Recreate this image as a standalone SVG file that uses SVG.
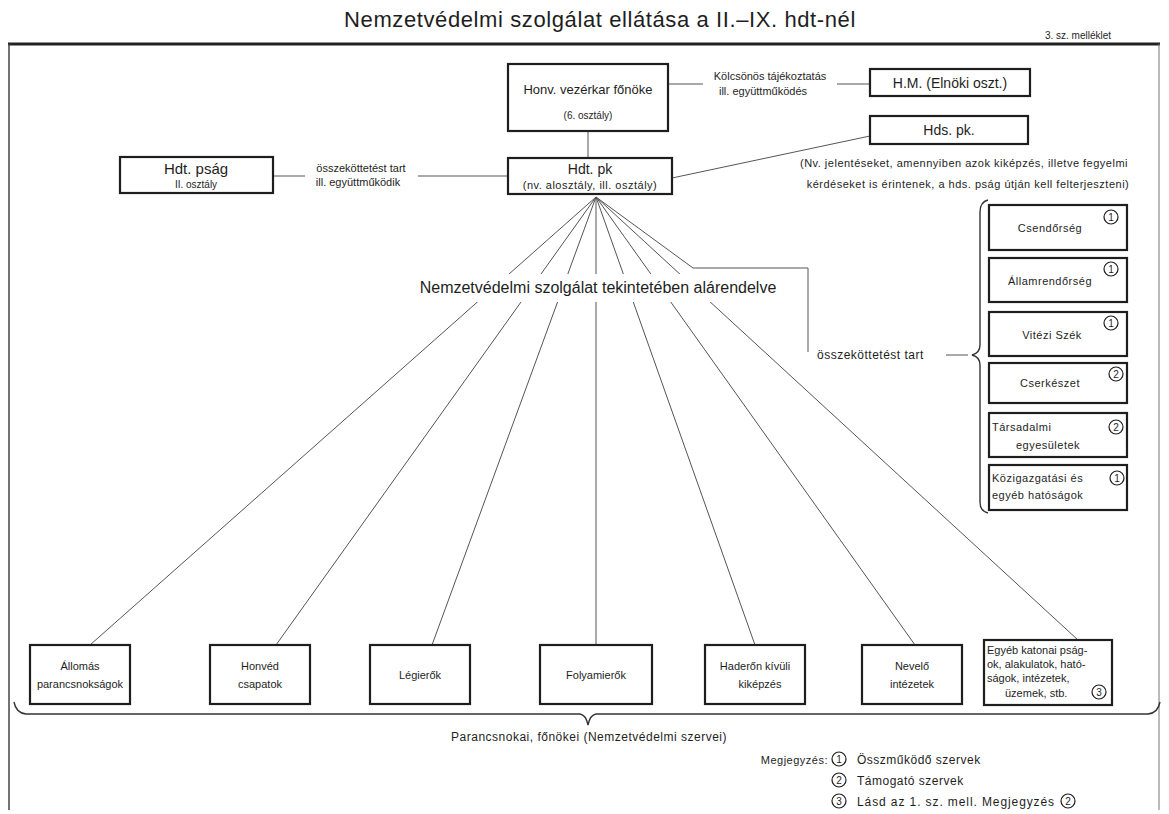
<svg xmlns="http://www.w3.org/2000/svg" width="1169" height="814" viewBox="0 0 1169 814">
<style>
text{font-family:"Liberation Sans","DejaVu Sans",sans-serif;fill:#1e1e1e}
.box{fill:#fff;stroke:#1e1e1e;stroke-width:2.2}
.ln{fill:none;stroke:#555;stroke-width:1}
.br{fill:none;stroke:#333;stroke-width:1.4}
.c{fill:none;stroke:#1e1e1e;stroke-width:1.2}
.m{text-anchor:middle}
.t13{font-size:13px}
.t12{font-size:12px}
.t11{font-size:11px}
.t10{font-size:10px}
.sp{letter-spacing:0.5px}
.cn{font-size:10px;text-anchor:middle}
</style>
<rect width="1169" height="814" fill="#fff"/>
<text x="600" y="27" class="m" font-size="22" letter-spacing="0.6">Nemzetvédelmi szolgálat ellátása a II.–IX. hdt-nél</text>
<text x="1078" y="39" class="m t10">3. sz. melléklet</text>
<g id="frame">
<line x1="8" y1="44" x2="1160" y2="44" stroke="#222" stroke-width="3"/>
<line x1="9" y1="44" x2="9" y2="810" stroke="#444" stroke-width="1.5"/>
<line x1="1159" y1="44" x2="1159" y2="810" stroke="#777" stroke-width="1"/>
</g>
<g id="connectors">
<line class="ln" x1="668" y1="84" x2="703" y2="84"/>
<line class="ln" x1="837" y1="84" x2="870" y2="84"/>
<line class="ln" x1="588" y1="131" x2="588" y2="158"/>
<line class="ln" x1="273" y1="176" x2="305" y2="176"/>
<line class="ln" x1="418" y1="176" x2="508" y2="176"/>
<line class="ln" x1="672" y1="178" x2="870" y2="136"/>
<line class="ln" x1="596" y1="197" x2="90" y2="645"/>
<line class="ln" x1="596" y1="197" x2="276" y2="645"/>
<line class="ln" x1="596" y1="197" x2="432" y2="645"/>
<line class="ln" x1="596" y1="197" x2="596" y2="645"/>
<line class="ln" x1="596" y1="197" x2="755" y2="645"/>
<line class="ln" x1="596" y1="197" x2="915" y2="645"/>
<line class="ln" x1="596" y1="197" x2="1078" y2="640"/>
<polyline class="ln" points="596,197 693,268 808,268 808,352"/>
<line class="ln" x1="946" y1="355" x2="968" y2="355"/>
<rect x="412" y="274" width="384" height="28" fill="#fff"/>
<path class="br" d="M988,200 Q980,202 980,212 L980,345 Q980,353 972,355 Q980,357 980,365 L980,502 Q980,511 988,513"/>
<path class="br" d="M14,702 Q16,713 26,714 L580,714 Q586,715 588,725 Q590,715 596,714 L1148,714 Q1158,713 1160,702"/>
</g>
<text x="598" y="293" class="m" font-size="16">Nemzetvédelmi szolgálat tekintetében alárendelve</text>
<text x="770" y="80" class="m t11">Kölcsönös tájékoztatás</text>
<text x="763" y="95" class="m t11">ill. együttműködés</text>
<text x="361" y="172" class="m t11">összeköttetést tart</text>
<text x="358" y="186" class="m t11">ill. együttműködik</text>
<text x="817" y="359" class="t12 sp">összeköttetést tart</text>
<text x="964" y="167" class="m t11 sp">(Nv. jelentéseket, amennyiben azok kiképzés, illetve fegyelmi</text>
<text x="968" y="188" class="m t11 sp">kérdéseket is érintenek, a hds. pság útján kell felterjeszteni)</text>
<g id="n-honv"><rect class="box" x="508" y="64" width="160" height="67"/><text x="588" y="94" class="m t13">Honv. vezérkar főnöke</text><text x="588" y="119" class="m t10">(6. osztály)</text></g>
<g id="n-hm"><rect class="box" x="870" y="69" width="160" height="27"/><text x="950" y="88" class="m" font-size="14">H.M. (Elnöki oszt.)</text></g>
<g id="n-hds"><rect class="box" x="870" y="116" width="158" height="28"/><text x="949" y="135" class="m" font-size="14">Hds. pk.</text></g>
<g id="n-hdtpk"><rect class="box" x="508" y="158" width="164" height="36"/><text x="590" y="174" class="m" font-size="14">Hdt. pk</text><text x="590" y="189" class="m t11 sp">(nv. alosztály, ill. osztály)</text></g>
<g id="n-hdtpsag"><rect class="box" x="120" y="157" width="153" height="36"/><text x="196" y="174" class="m" font-size="15">Hdt. pság</text><text x="196" y="188" class="m t10">II. osztály</text></g>
<g id="n-csend"><rect class="box" x="989" y="205" width="138" height="45"/><text x="1050" y="232" class="m t11 sp">Csendőrség</text><circle class="c" cx="1111" cy="217" r="7"/><text x="1111" y="221" class="cn">1</text></g>
<g id="n-allam"><rect class="box" x="989" y="258" width="138" height="44"/><text x="1050" y="285" class="m t11 sp">Államrendőrség</text><circle class="c" cx="1111" cy="269" r="7"/><text x="1111" y="273" class="cn">1</text></g>
<g id="n-vitezi"><rect class="box" x="989" y="312" width="138" height="44"/><text x="1052" y="339" class="m t11 sp">Vitézi Szék</text><circle class="c" cx="1111" cy="323" r="7"/><text x="1111" y="327" class="cn">1</text></g>
<g id="n-cserk"><rect class="box" x="989" y="363" width="138" height="40"/><text x="1050" y="387" class="m t11 sp">Cserkészet</text><circle class="c" cx="1116" cy="374" r="7"/><text x="1116" y="378" class="cn">2</text></g>
<g id="n-tars"><rect class="box" x="989" y="413" width="138" height="44"/><text x="992" y="431" class="t11 sp">Társadalmi</text><text x="1048" y="449" class="m t11 sp">egyesületek</text><circle class="c" cx="1116" cy="427" r="7"/><text x="1116" y="431" class="cn">2</text></g>
<g id="n-kozig"><rect class="box" x="989" y="465" width="138" height="45"/><text x="992" y="482" class="t11 sp">Közigazgatási és</text><text x="992" y="499" class="t11 sp">egyéb hatóságok</text><circle class="c" cx="1117" cy="478" r="7"/><text x="1117" y="482" class="cn">1</text></g>
<g id="n-allomas"><rect class="box" x="30" y="645" width="100" height="59"/><text x="80" y="670" class="m t11">Állomás</text><text x="80" y="688" class="m t11">parancsnokságok</text></g>
<g id="n-honved"><rect class="box" x="210" y="645" width="100" height="59"/><text x="260" y="670" class="m t11">Honvéd</text><text x="260" y="688" class="m t11">csapatok</text></g>
<g id="n-legi"><rect class="box" x="370" y="645" width="100" height="59"/><text x="420" y="679" class="m t11">Légierők</text></g>
<g id="n-folyam"><rect class="box" x="540" y="645" width="112" height="59"/><text x="596" y="679" class="m t11">Folyamierők</text></g>
<g id="n-hader"><rect class="box" x="705" y="645" width="100" height="59"/><text x="755" y="670" class="m t11">Haderőn kívüli</text><text x="760" y="688" class="m t11">kiképzés</text></g>
<g id="n-nevelo"><rect class="box" x="862" y="645" width="100" height="59"/><text x="912" y="670" class="m t11">Nevelő</text><text x="912" y="688" class="m t11">intézetek</text></g>
<g id="n-egyeb"><rect class="box" x="984" y="640" width="128" height="65"/><text x="987" y="654" class="t11">Egyéb katonai pság-</text><text x="987" y="668" class="t11">ok, alakulatok, ható-</text><text x="987" y="682" class="t11">ságok, intézetek,</text><text x="1005" y="697" class="t11">üzemek, stb.</text><circle class="c" cx="1099" cy="692" r="7"/><text x="1099" y="696" class="cn">3</text></g>
<text x="589" y="741" class="m t12 sp">Parancsnokai, főnökei (Nemzetvédelmi szervei)</text>
<g id="legend">
<text x="828" y="764" class="t11 sp" text-anchor="end">Megjegyzés:</text>
<circle class="c" cx="839" cy="759" r="7"/><text x="839" y="763" class="cn">1</text>
<text x="857" y="764" class="t12 sp">Összműködő szervek</text>
<circle class="c" cx="839" cy="780" r="7"/><text x="839" y="784" class="cn">2</text>
<text x="857" y="785" class="t12 sp">Támogató szervek</text>
<circle class="c" cx="839" cy="801" r="7"/><text x="839" y="805" class="cn">3</text>
<text x="857" y="806" class="t12" letter-spacing="0.9">Lásd az 1. sz. mell. Megjegyzés</text>
<circle class="c" cx="1068" cy="801" r="7"/><text x="1068" y="805" class="cn">2</text>
</g>
</svg>
